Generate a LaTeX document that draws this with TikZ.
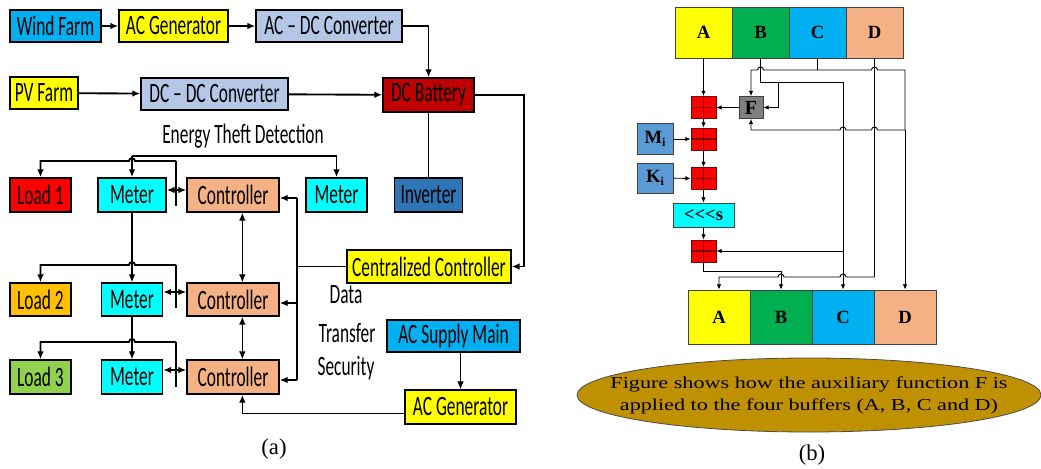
\documentclass[tikz,border=0pt]{standalone}
\usepackage{fontspec}
\usepackage{graphicx}
\setmainfont{Liberation Serif}
\newfontfamily\cfont{Carlito}
\usetikzlibrary{arrows.meta,shapes.geometric,calc}
\newcommand\cz[1]{\scalebox{0.62}[1]{#1}}
\newcommand\wz[1]{\scalebox{1.33}[1]{#1}}
\definecolor{cWind}{HTML}{00B0F0}
\definecolor{cYel}{HTML}{FFFF00}
\definecolor{cLB}{HTML}{B4C7E7}
\definecolor{cDR}{HTML}{C00000}
\definecolor{cInv}{HTML}{2E75B6}
\definecolor{cRed}{HTML}{FF0000}
\definecolor{cCyan}{HTML}{00FFFF}
\definecolor{cSal}{HTML}{F4B183}
\definecolor{cOr}{HTML}{FFC000}
\definecolor{cGr}{HTML}{92D050}
\definecolor{cBG}{HTML}{00B050}
\definecolor{cMi}{HTML}{5B9BD5}
\definecolor{cGray}{HTML}{7F7F7F}
\definecolor{cEll}{HTML}{BF9000}
\definecolor{cAdd}{HTML}{7F0000}
\tikzset{
  wh/.style 2 args={minimum width=#1*0.75pt, minimum height=#2*0.75pt},
  lbox/.style={draw=black, line width=1.1pt, inner sep=0pt, font=\cfont\fontsize{21}{24}\selectfont},
  txt/.style={inner sep=0pt, font=\cfont\fontsize{21}{24}\selectfont},
  capt/.style={inner sep=0pt, font=\fontsize{17}{20}\selectfont},
  thk/.style={line width=1.4pt},
  med/.style={line width=1.1pt},
  thn/.style={line width=0.8pt},
  arr/.style={-{Latex[length=6pt,width=5pt]}},
  barr/.style={{Latex[length=6pt,width=5pt]}-{Latex[length=6pt,width=5pt]}},
  rbox/.style={draw=black!75, line width=0.6pt, inner sep=0pt, font=\bfseries\fontsize{14}{16}\selectfont},
  adder/.style={draw=cAdd, line width=0.6pt, fill=cRed, inner sep=0pt, minimum width=18.75pt, minimum height=16.5pt,
    path picture={\draw[line width=0.8pt, cAdd] (path picture bounding box.north) -- (path picture bounding box.south) (path picture bounding box.west) -- (path picture bounding box.east);}},
  rw/.style={line width=0.7pt},
  rarr/.style={-{Latex[length=4pt,width=3.5pt]}}
}
\begin{document}
\begin{tikzpicture}[x=0.75pt,y=-0.75pt]
\useasboundingbox (0,0) rectangle (1041,468);

% ---------- panel (a) ----------
\node[lbox, fill=cWind, wh={91}{32}] (wind) at (55.5,26) {\cz{Wind Farm}};
\node[lbox, fill=cYel, wh={109}{32}] (acg1) at (173.5,26) {\cz{AC Generator}};
\node[lbox, fill=cLB, wh={146}{32}] (acdc) at (329,26) {\cz{AC – DC Converter}};
\node[lbox, fill=cYel, wh={68}{32}] (pv) at (44,93) {\cz{PV Farm}};
\node[lbox, fill=cLB, wh={147}{32}] (dcdc) at (214.5,94) {\cz{DC – DC Converter}};
\node[lbox, fill=cDR, wh={91}{34}] (bat) at (428.5,95) {\cz{DC Battery}};
\node[lbox, fill=cInv, wh={68}{34}] (inv) at (428.5,195) {\cz{Inverter}};
\node[lbox, fill=cRed, wh={61}{34}] (load1) at (40.5,195) {\cz{Load 1}};
\node[lbox, fill=cCyan, wh={68}{34}] (met1) at (132,195) {\cz{Meter}};
\node[lbox, fill=cSal, wh={92}{34}] (ctl1) at (233,195) {\cz{Controller}};
\node[lbox, fill=cCyan, wh={61}{34}] (met4) at (336.5,195) {\cz{Meter}};
\node[lbox, fill=cYel, wh={164}{33}] (cc) at (429,266.5) {\cz{Centralized Controller}};
\node[lbox, fill=cOr, wh={61}{33}] (load2) at (40.5,299.5) {\cz{Load 2}};
\node[lbox, fill=cCyan, wh={61}{33}] (met2) at (132,299.5) {\cz{Meter}};
\node[lbox, fill=cSal, wh={92}{33}] (ctl2) at (233,299.5) {\cz{Controller}};
\node[lbox, fill=cGr, wh={61}{34}] (load3) at (40.5,377) {\cz{Load 3}};
\node[lbox, fill=cCyan, wh={61}{34}] (met3) at (132,377) {\cz{Meter}};
\node[lbox, fill=cSal, wh={92}{34}] (ctl3) at (233,377) {\cz{Controller}};
\node[lbox, fill=cWind, wh={133}{32}] (acsm) at (453.5,336) {\cz{AC Supply Main}};
\node[lbox, fill=cYel, wh={111}{34}] (acg2) at (460.5,407) {\cz{AC Generator}};

\node[txt] (etd) at (243,136) {\cz{Energy Theft Detection}};
\node[txt] (data) at (346,295) {\cz{Data}};
\node[txt] (trans) at (347,333) {\cz{Transfer}};
\node[txt] (sec) at (346,368) {\cz{Security}};
\node[capt] (capa) at (274,449) {(a)};

\draw[thk,arr] (wind) -- (acg1);
\draw[thk,arr] (acg1) -- (acdc);
\draw[thk,arr] (acdc.east) -| (bat.north);
\draw[thk,arr] (pv) -- (dcdc);
\draw[thk,arr] (dcdc) -- (bat);
\draw[thk,arr] (bat.east) -| ([xshift=9pt]cc.east) -- (cc.east);
\draw[thn] (bat.south) -- (inv.north);

\coordinate (et) at (132,156);
\draw[thk,arr] (et) -| (met4.north);
\draw[thk,arr] (et) -- (met1.north);

% load / meter rows
\draw[thn] (176,206) -- (176,161);
\draw[thk,arr] (176,161) -- (135,161) arc[start angle=0,end angle=-180,radius=3] -- (40.5,161) -- (load1.north);
\coordinate (j1) at (176,190);
\draw[thk,arr] (j1) -- (j1 -| met1.east);
\draw[thk,arr] (j1) -- (j1 -| ctl1.west);

\draw[thn,arr] (met1.south) -- (met2.north);
\draw[thn] (176,308) -- (176,265);
\draw[thk,arr] (176,265) -- (135,265) arc[start angle=0,end angle=-180,radius=3] -- (40.5,265) -- (load2.north);
\coordinate (j2) at (176,292);
\draw[thk,arr] (j2) -- (j2 -| met2.east);
\draw[thk,arr] (j2) -- (j2 -| ctl2.west);

\draw[thn,arr] (met2.south) -- (met3.north);
\draw[thn] (176,387) -- (176,342);
\draw[thk,arr] (176,342) -- (135,342) arc[start angle=0,end angle=-180,radius=3] -- (40.5,342) -- (load3.north);
\coordinate (j3) at (176,370);
\draw[thk,arr] (j3) -- (j3 -| met3.east);
\draw[thk,arr] (j3) -- (j3 -| ctl3.west);

% controller bus
\coordinate (r1) at (297,198);
\coordinate (r2) at (297,303);
\coordinate (r3) at (297,380);
\draw[med] (r1) -- (r3);
\draw[med] (cc.west) -- (cc.west -| r1);
\draw[med,arr] (r1) -- (r1 -| ctl1.east);
\draw[med,arr] (r2) -- (r2 -| ctl2.east);
\draw[med,arr] (r3) -- (r3 -| ctl3.east);
\draw[thn,barr] ([xshift=7pt]ctl1.south) -- ([xshift=7pt]ctl2.north);
\draw[thn,barr] ([xshift=7pt]ctl2.south) -- ([xshift=7pt]ctl3.north);
\draw[thn,arr] (acsm.south -| acg2.north) -- (acg2.north);
\draw[med,arr] ([yshift=-5pt]acg2.west) -| ([xshift=7pt]ctl3.south);

% ---------- panel (b) ----------
\node[rbox, fill=cYel, wh={57}{51}] (tA) at (703.5,32.5) {A};
\node[rbox, fill=cBG, wh={57}{51}] (tB) at (760.5,32.5) {B};
\node[rbox, fill=cWind, wh={57}{51}] (tC) at (817.5,32.5) {C};
\node[rbox, fill=cSal, wh={57}{51}] (tD) at (874.5,32.5) {D};

\node[rbox, fill=cYel, wh={62}{54}] (bA) at (719,317) {A};
\node[rbox, fill=cBG, wh={62}{54}] (bB) at (781,317) {B};
\node[rbox, fill=cWind, wh={62}{54}] (bC) at (843,317) {C};
\node[rbox, fill=cSal, wh={62}{54}] (bD) at (905,317) {D};

\node[adder] (ad1) at (703.5,107.5) {};
\node[adder] (ad2) at (703.5,139) {};
\node[adder] (ad3) at (703.5,178.5) {};
\node[adder] (ad4) at (703.5,251) {};
\node[rbox, fill=cGray, wh={24}{22}, font=\bfseries\fontsize{15}{16}\selectfont] (F) at (751,107.5) {F};
\node[rbox, fill=cMi, wh={36}{31}] (mi) at (655,139) {M\raisebox{-2pt}{\fontsize{9}{10}\selectfont i}};
\node[rbox, fill=cMi, wh={36}{30}] (ki) at (655,178) {K\raisebox{-2pt}{\fontsize{9}{10}\selectfont i}};
\node[rbox, fill=cCyan, wh={61}{24}] (sh) at (703.5,215) {{<}{<}{<}s};

\draw[rw,rarr] (tA.south) -- (ad1.north);
\draw[rw,rarr] (ad1) -- (ad2);
\draw[rw,rarr] (ad2) -- (ad3);
\draw[rw,rarr] (ad3) -- (sh);
\draw[rw,rarr] (sh) -- (ad4);
\draw[rw,rarr] (mi) -- (ad2);
\draw[rw,rarr] (ki) -- (ad3);
\draw[rw,rarr] (F) -- (ad1);

% C output
\coordinate (c0) at (817.5,70);
\draw[rw] (tC.south) -- (c0);
\draw[rw,rarr] (c0) -- (763.5,70) arc[start angle=0,end angle=-180,radius=3] -- (751,70) -- (F.north);
\draw[rw] (c0) -- (871.5,70) arc[start angle=180,end angle=360,radius=3] -- (905,70) -- (905,130);
\draw[rw,rarr] (905,130) -- (bD.north);
\draw[rw,rarr] (905,130) -- (877.5,130) arc[start angle=0,end angle=-180,radius=3] -- (846,130) arc[start angle=0,end angle=-180,radius=3] -- (751,130) -- (F.south);

% B output
\coordinate (b0) at (843,82);
\draw[rw] (tB.south) -- (760.5,82) -- (b0);
\draw[rw,rarr] (b0) -- (bC.north);
\draw[rw,rarr] (778,82) -- (778,107.5) -- (F.east);
\draw[rw,rarr] (843,251) -- (ad4.east);

% D output
\draw[rw,rarr] (tD.south) -- (874.5,277) -- (846,277) arc[start angle=0,end angle=-180,radius=3] -- (784,277) arc[start angle=0,end angle=-180,radius=3] -- (719,277) -- (bA.north);

% adder 4 output
\draw[rw,rarr] (ad4.south) -- (703.5,271) -- (781,271) -- (bB.north);

\node[ellipse, draw=black!70, line width=0.6pt, fill=cEll, wh={464}{74}, inner sep=0pt] (note) at (809,395) {};
\node[inner sep=0pt, align=center, font=\fontsize{12.5}{16.5}\selectfont] (notetxt) at (note.center) {\wz{Figure shows how the auxiliary function F is}\\\wz{applied to the four buffers (A, B, C and D)}};
\node[capt] (capb) at (812,455) {(b)};
\end{tikzpicture}
\end{document}
